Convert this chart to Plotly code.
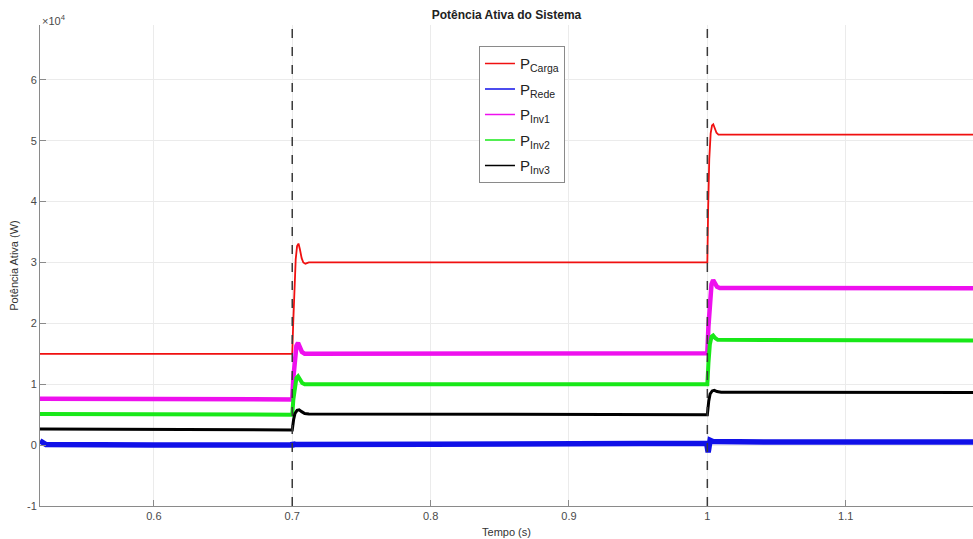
import plotly.graph_objects as go

# Time window shown (s) and switching instants of the load steps
x_range = [0.5177, 1.192]
event_times = [0.7, 1.0]

# Axis ticks (y values are in units of 1e4 W)
x_ticks = [0.6, 0.7, 0.8, 0.9, 1.0, 1.1]
x_tick_text = ["0.6", "0.7", "0.8", "0.9", "1", "1.1"]
y_ticks = [-1e4, 0, 1e4, 2e4, 3e4, 4e4, 5e4, 6e4]
y_tick_text = ["-1", "0", "1", "2", "3", "4", "5", "6"]
y_range = [-1e4, 6.9e4]

# Load power P_Carga (W)
t_carga = [0.5177, 0.7, 0.7007, 0.7015, 0.7025, 0.7035, 0.7045, 0.7055, 0.7068, 0.708, 0.7095, 0.712,
           1.0, 1.0006, 1.0014, 1.0024, 1.0034, 1.0043, 1.0053, 1.0066, 1.008, 1.0095, 1.192]
p_carga = [1.5e4, 1.5e4, 2.0e4, 2.6e4, 3.05e4, 3.27e4, 3.31e4, 3.22e4, 3.07e4, 3.0e4, 2.98e4, 3.0e4,
           3.0e4, 3.9e4, 4.7e4, 5.12e4, 5.25e4, 5.27e4, 5.21e4, 5.13e4, 5.1e4, 5.1e4, 5.1e4]

# Grid power P_Rede (W)
t_rede = [0.5177, 0.522, 0.6, 0.7, 0.7004, 0.7012, 0.8, 0.9, 0.9995, 1.0006, 1.0014, 1.002, 1.004, 1.05, 1.192]
p_rede = [700, 100, 0, 0, 400, 100, 150, 200, 300, -1200, -500, 800, 600, 500, 500]

# Inverter 1 power P_Inv1 (W)
t_inv1 = [0.5177, 0.7, 0.7008, 0.7018, 0.703, 0.7042, 0.7055, 0.707, 0.709,
          1.0, 1.0008, 1.0018, 1.003, 1.0042, 1.0055, 1.007, 1.009, 1.192]
p_inv1 = [7.6e3, 7.5e3, 1.1e4, 1.45e4, 1.63e4, 1.68e4, 1.6e4, 1.53e4, 1.5e4,
          1.51e4, 1.95e4, 2.4e4, 2.64e4, 2.71e4, 2.67e4, 2.6e4, 2.58e4, 2.575e4]

# Inverter 2 power P_Inv2 (W)
t_inv2 = [0.5177, 0.7, 0.7008, 0.7018, 0.703, 0.7042, 0.7056, 0.7072, 0.709,
          1.0, 1.0008, 1.0018, 1.003, 1.0042, 1.0056, 1.0075, 1.192]
p_inv2 = [5.1e3, 5.0e3, 7.5e3, 9.8e3, 1.1e4, 1.13e4, 1.07e4, 1.02e4, 1.0e4,
          1.0e4, 1.35e4, 1.65e4, 1.78e4, 1.8e4, 1.76e4, 1.73e4, 1.72e4]

# Inverter 3 power P_Inv3 (W)
t_inv3 = [0.5177, 0.7, 0.701, 0.702, 0.7035, 0.705, 0.7068, 0.709, 0.712,
          1.0, 1.001, 1.002, 1.0035, 1.005, 1.007, 1.01, 1.192]
p_inv3 = [2.65e3, 2.5e3, 4.2e3, 5.2e3, 5.7e3, 5.8e3, 5.5e3, 5.2e3, 5.1e3,
          5.0e3, 7.2e3, 8.4e3, 8.9e3, 9.0e3, 8.8e3, 8.7e3, 8.65e3]

series = [
    ("P<sub>Carga</sub>", t_carga, p_carga, "#f01010", 1.8),
    ("P<sub>Rede</sub>", t_rede, p_rede, "#1010e8", 5.5),
    ("P<sub>Inv1</sub>", t_inv1, p_inv1, "#ee10ee", 4.5),
    ("P<sub>Inv2</sub>", t_inv2, p_inv2, "#18e818", 4.0),
    ("P<sub>Inv3</sub>", t_inv3, p_inv3, "#000000", 3.0),
]

font_family = "Liberation Sans, Arial, sans-serif"
axis_grey = "#8a8a8a"
text_grey = "#4a4a4a"

fig = go.Figure()

# Measured traces (band thickness reflects the switching ripple)
for name, t, p, color, width in series:
    fig.add_trace(go.Scatter(x=t, y=p, mode="lines", name=name, legendgroup=name,
                             showlegend=False, line=dict(color=color, width=width)))

# Legend entries with thin sample lines
for name, t, p, color, width in series:
    fig.add_trace(go.Scatter(x=[None], y=[None], mode="lines", name=name, legendgroup=name,
                             showlegend=True, line=dict(color=color, width=1.5)))

# Dashed markers at the load switching instants
for te in event_times:
    fig.add_shape(type="line", xref="x", yref="paper", x0=te, x1=te, y0=0, y1=1,
                  line=dict(color="#3a3a3a", width=1.5, dash="dash"), layer="above")

fig.update_layout(
    width=973, height=539,
    margin=dict(l=40, r=0, t=25, b=33),
    paper_bgcolor="white", plot_bgcolor="white",
    font=dict(family=font_family, size=11, color=text_grey),
    title=dict(text="<b>Potência Ativa do Sistema</b>", x=0.5, xref="paper",
               y=1, yref="container", yanchor="top", pad=dict(t=11),
               font=dict(size=12, color="#222222")),
    showlegend=True,
    legend=dict(x=0.4705, y=0.956, xanchor="left", yanchor="top",
                bgcolor="white", bordercolor="#8a8a8a", borderwidth=1,
                font=dict(size=15, color="#222222"), tracegroupgap=3,
                itemwidth=30),
)

fig.update_xaxes(range=x_range, tickvals=x_ticks, ticktext=x_tick_text,
                 showgrid=True, gridcolor="#ebebeb", gridwidth=1,
                 showline=True, linecolor=axis_grey, linewidth=1,
                 ticks="inside", ticklen=6, tickcolor=axis_grey,
                 zeroline=False, tickfont=dict(size=11, color=text_grey),
                 title=dict(text="Tempo (s)", standoff=7, font=dict(size=11, color="#333333")))

fig.update_yaxes(range=y_range, tickvals=y_ticks, ticktext=y_tick_text,
                 showgrid=True, gridcolor="#ebebeb", gridwidth=1,
                 showline=True, linecolor=axis_grey, linewidth=1,
                 ticks="inside", ticklen=6, tickcolor=axis_grey,
                 zeroline=False, tickfont=dict(size=11, color=text_grey),
                 title=dict(text="Potência Ativa (W)", standoff=6, font=dict(size=11, color="#333333")))

# Exponent label for the y axis
fig.add_annotation(text="×10<sup>4</sup>", xref="paper", yref="paper", x=0, y=1,
                   xanchor="left", yanchor="bottom", yshift=-4, showarrow=False,
                   font=dict(size=11, color=text_grey))

fig.write_html("out.html")
